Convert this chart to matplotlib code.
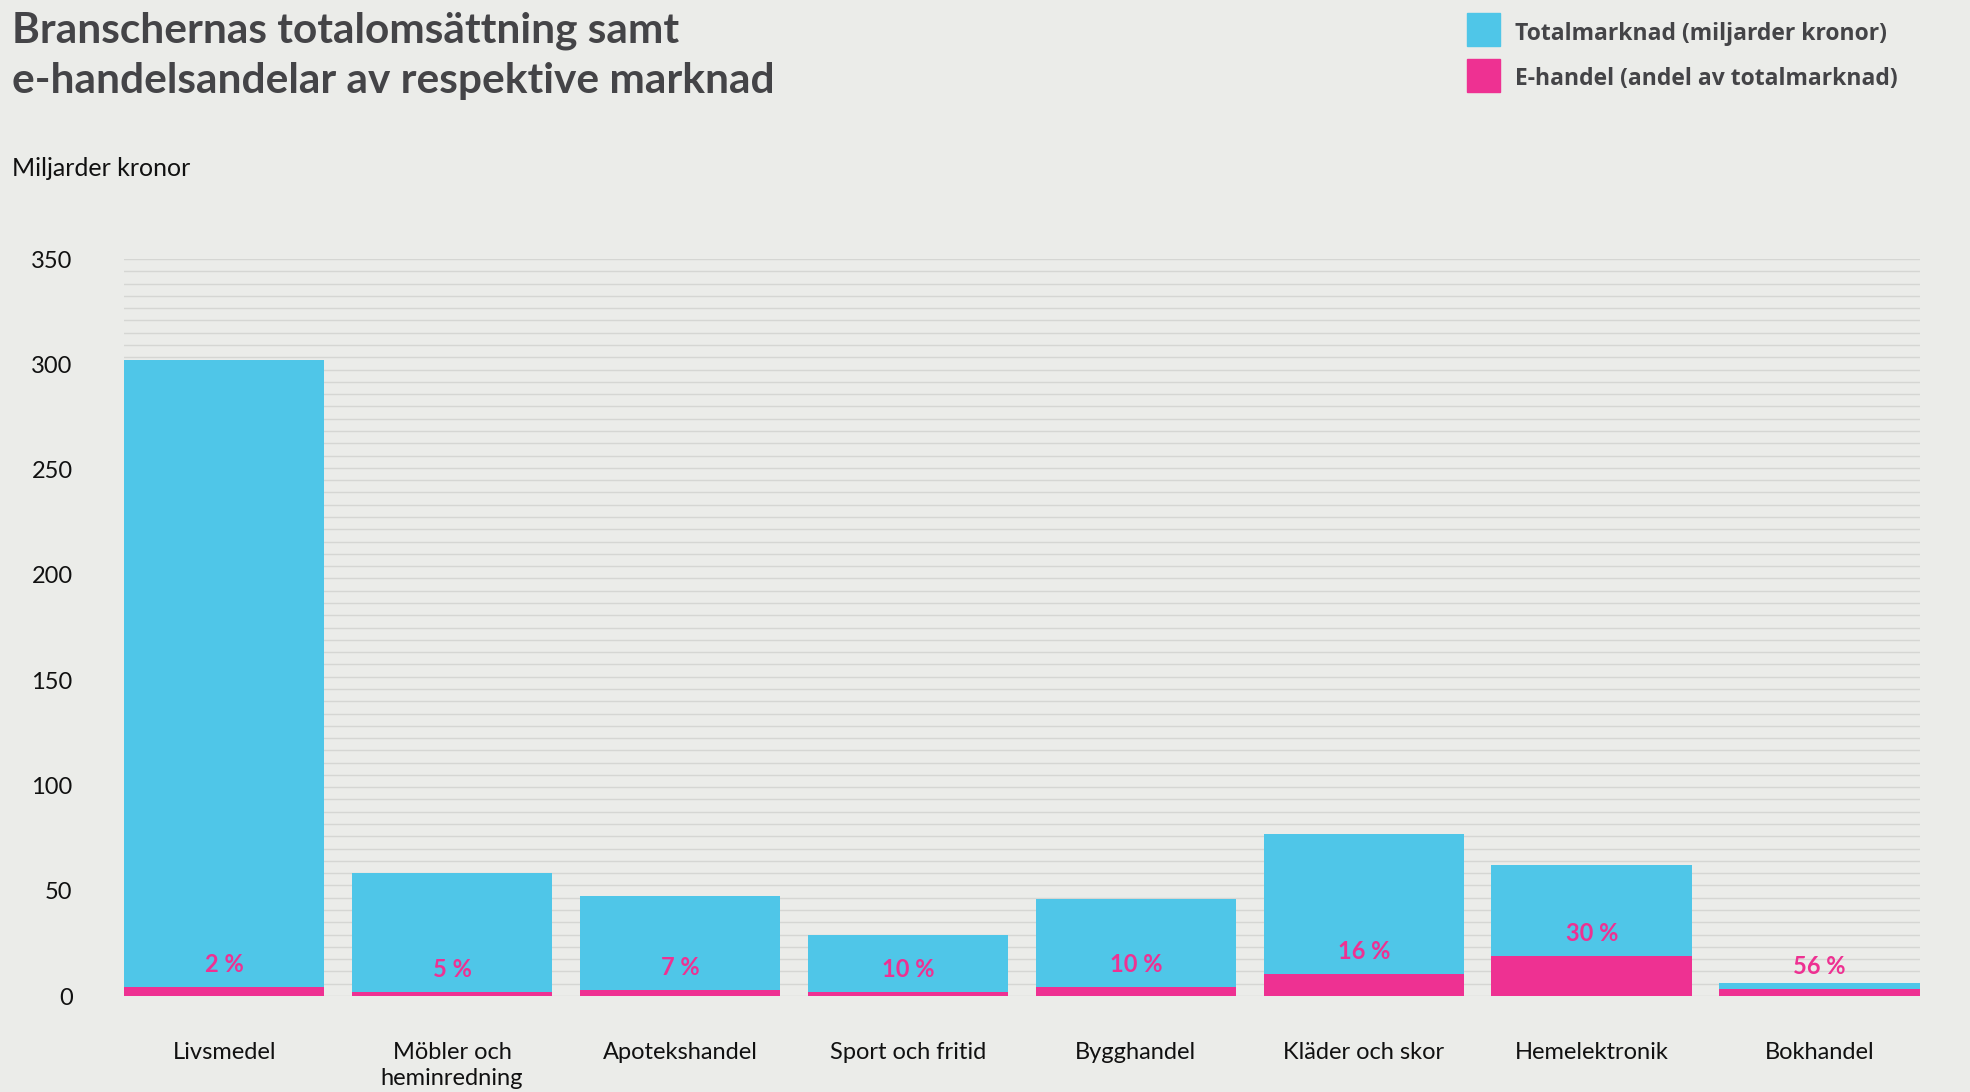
import numpy as np
import matplotlib.pyplot as plt

# data
branscher = ['Livsmedel', 'Möbler och\nheminredning', 'Apotekshandel', 'Sport och fritid',
             'Bygghandel', 'Kläder och skor', 'Hemelektronik', 'Bokhandel']
totalmarknad = [302, 58.4, 47.6, 29, 46, 77, 62, 6.2]
ehandel = [4.4, 2.0, 3.0, 2.0, 4.3, 10.6, 19, 3.3]
andel = ['2 %', '5 %', '7 %', '10 %', '10 %', '16 %', '30 %', '56 %']
yticks = [0, 50, 100, 150, 200, 250, 300, 350]

bg = '#ebece9'
blue = '#4fc6e8'
pink = '#ee3192'
narrow = ['Lato', 'DejaVu Sans']

fig = plt.figure(figsize=(19.7, 10.92), dpi=100, facecolor=bg)
ax = fig.add_axes([0.0629, 0.0879, 0.9117, 0.6749], facecolor=bg)

for g in np.linspace(0, 350, 61):
    ax.axhline(g, color='#d5d6d3', lw=1.0, zorder=0)

x = np.arange(len(branscher))
ax.bar(x, totalmarknad, width=0.88, color=blue, zorder=2)
ax.bar(x, ehandel, width=0.88, color=pink, zorder=3)

for xi, e, txt in zip(x, ehandel, andel):
    ax.annotate(txt, (xi, e), xytext=(0, 8), textcoords='offset points',
                ha='center', va='bottom', color=pink, fontsize=17,
                fontweight='bold', family=narrow, zorder=4)

ax.set_xlim(-0.44, len(branscher) - 0.56)
ax.set_ylim(0, 350)
ax.set_yticks(yticks)
ax.set_yticklabels([str(v) for v in yticks], fontsize=17, family=narrow, color='#111111')
ax.set_xticks(x)
ax.set_xticklabels(branscher, fontsize=17, family=narrow, color='#111111', linespacing=1.3)
ax.tick_params(axis='y', length=0, pad=37)
ax.tick_params(axis='x', length=0, pad=33)
for s in ax.spines.values():
    s.set_visible(False)

fig.text(12 / 1970, 1 - 12 / 1092, 'Branschernas totalomsättning samt\ne-handelsandelar av respektive marknad',
         ha='left', va='top', fontsize=30.5, fontweight='bold', family=narrow,
         color='#444447', linespacing=1.38)
fig.text(12 / 1970, 1 - 168 / 1092, 'Miljarder kronor', ha='left', va='center',
         fontsize=18, family=narrow, color='#111111')

# legend
for i, (c, lab) in enumerate([(blue, 'Totalmarknad (miljarder kronor)'),
                               (pink, 'E-handel (andel av totalmarknad)')]):
    yc = 29.5 + i * 46
    fig.patches.append(plt.Rectangle((1467 / 1970, 1 - (yc + 16.5) / 1092), 33 / 1970, 33 / 1092,
                                     transform=fig.transFigure, color=c))
    fig.text(1515 / 1970, 1 - (yc + 4) / 1092, lab, ha='left', va='center', fontsize=16.5,
             fontweight='bold', family=['Open Sans', 'DejaVu Sans'], color='#444447')

fig.savefig('out.png', dpi=100, facecolor=bg)
